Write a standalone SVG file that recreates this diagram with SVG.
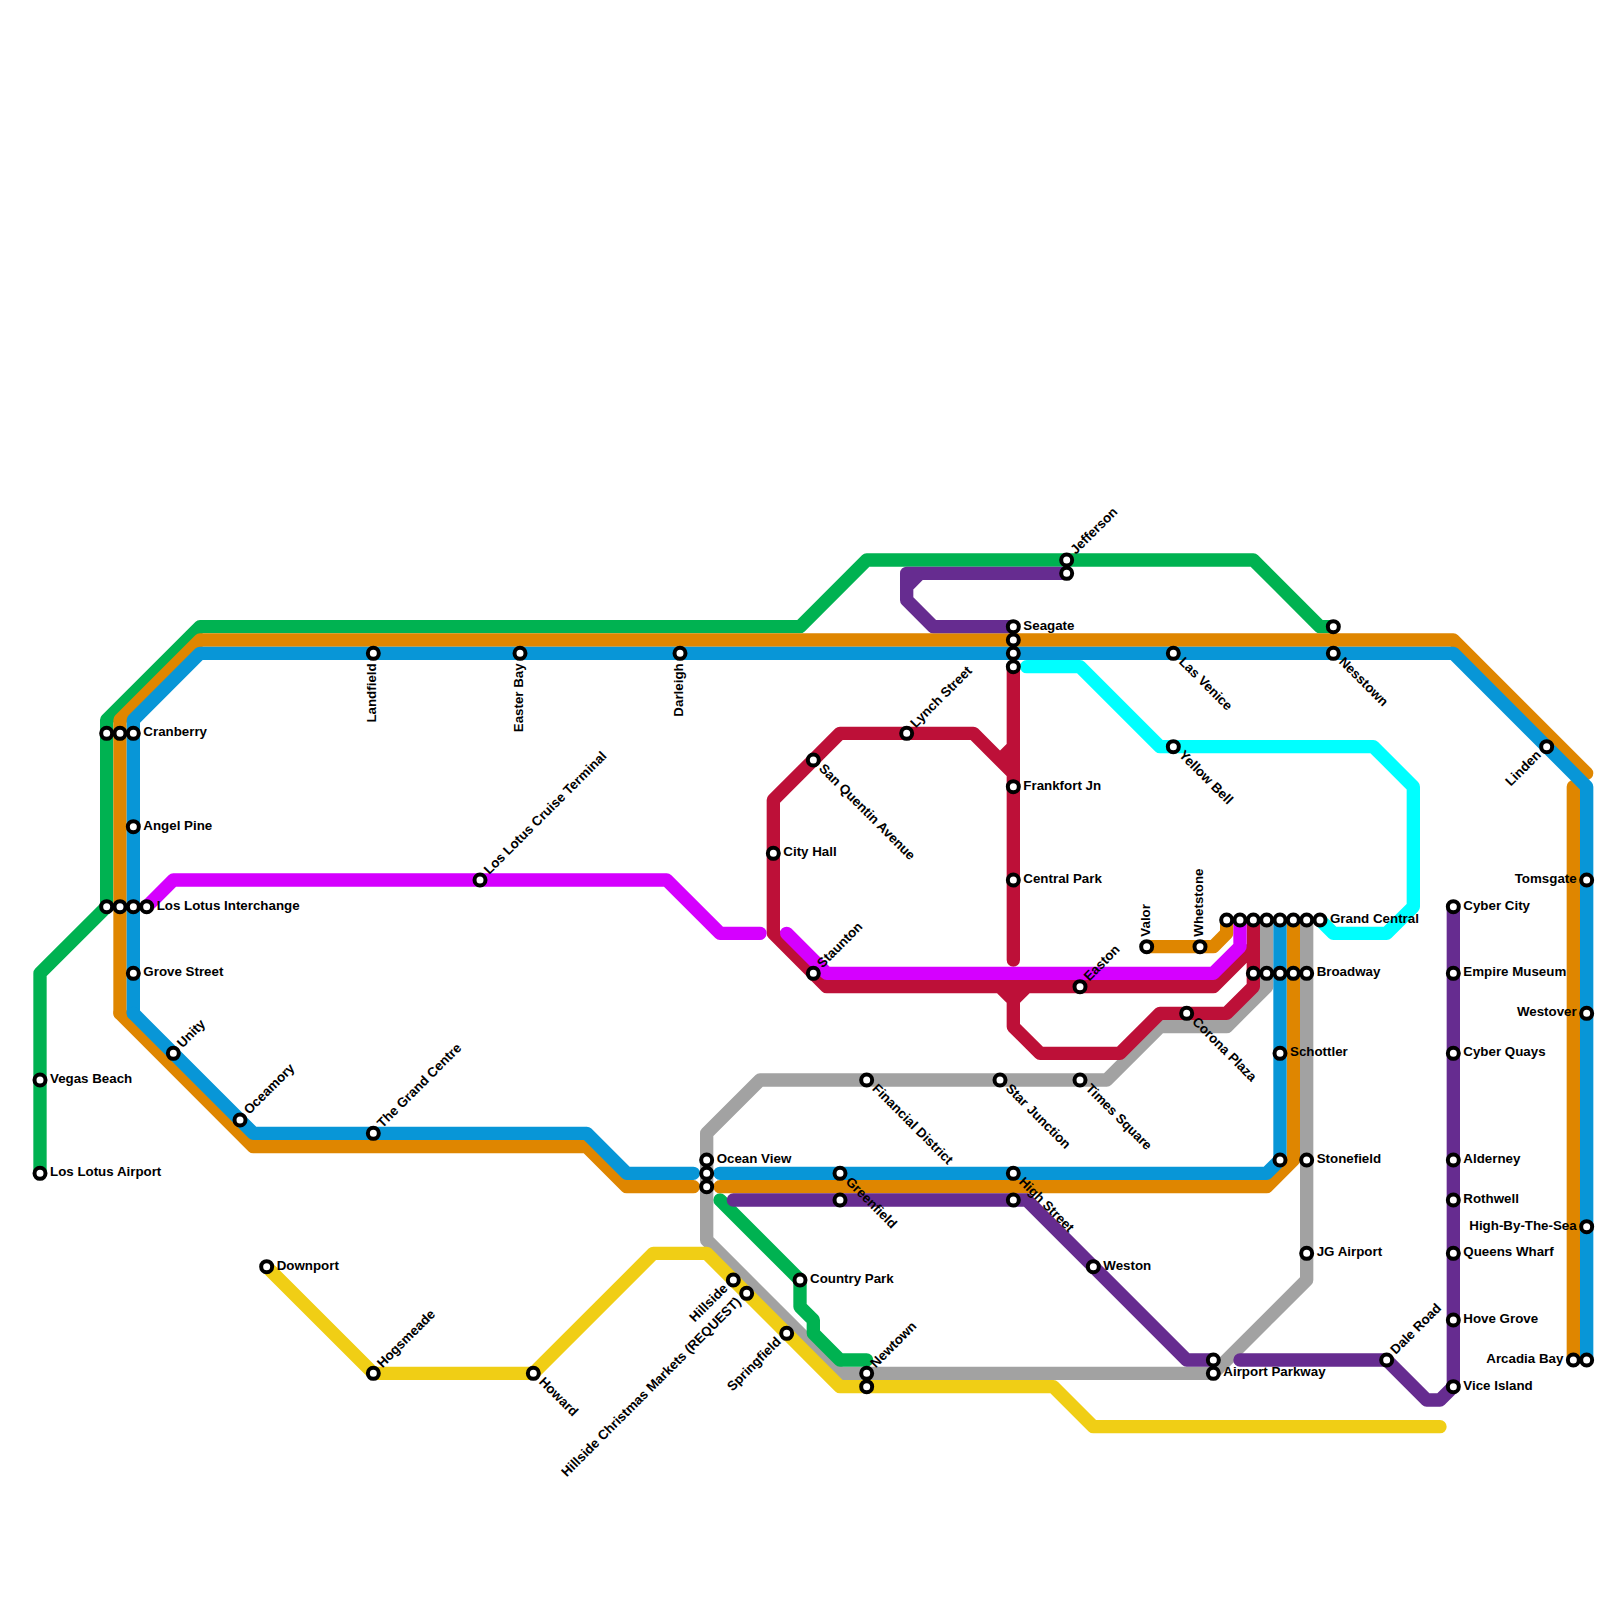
<svg xmlns="http://www.w3.org/2000/svg" width="1600" height="1600" viewBox="0 0 1600 1600">
<style>
.l{fill:none;stroke-width:1;stroke-linecap:round;stroke-linejoin:round}
.green{stroke:#00b251}.orange{stroke:#df8600}.blue{stroke:#0896d7}.magenta{stroke:#d500ff}.crimson{stroke:#bd1038}.purple{stroke:#662c90}.gray{stroke:#a2a2a2}.yellow{stroke:#f0ce15}.cyan{stroke:#00ffff}
circle{fill:#fff;stroke:#000;stroke-width:4}
text{font-family:"Liberation Sans",Arial,sans-serif;font-weight:700;font-size:13.33px;fill:#000}
.e{text-anchor:end}
</style>
<rect width="1600" height="1600" fill="#fff"/>
<g id="connectors" transform="scale(13.33333)">
<path class="l gray" d="M95 69V74L92 77H87L83 81H57L53 85V93L63 103H91L98 96V69"/>
<path class="l crimson" d="M58 70V60L63 55H73L76 58M76 56L75 57M76 50V72M58 70L62 74H91L94 71V69M94 69V74L92 76H87L84 79H78L76 77V75L75 74M76 75L77 74"/>
<path class="l green" d="M3 88V73L8 68V54L15 47H60L65 42H94L99 47H100"/>
<path class="l green" d="M54 90L60 96V98L61 99V100L63 102H65"/>
<path class="l orange" d="M9 76V54L15 48H109L119 58"/>
<path class="l orange" d="M9 76L19 86H44L47 89H52"/>
<path class="l orange" d="M54 89H95L97 87V69"/>
<path class="l orange" d="M118 59V102"/>
<path class="l orange" d="M86 71H91L92 70V69"/>
<path class="l blue" d="M10 76V54L15 49H109L119 59V102"/>
<path class="l blue" d="M10 76L19 85H44L47 88H52"/>
<path class="l blue" d="M54 88H95L96 87V69"/>
<path class="l magenta" d="M11 68L13 66H50L54 70H57"/>
<path class="l magenta" d="M59 70L62 73H91L93 71V69"/>
<path class="l purple" d="M76 47H70L68 45V43H80M69 43L68 44"/>
<path class="l purple" d="M55 90H77L89 102H91"/>
<path class="l purple" d="M93 102H104L107 105H108L109 104V68"/>
<path class="l yellow" d="M20 95L28 103H40L49 94H53L63 104H79L82 107H108"/>
<path class="l cyan" d="M77 50H81L87 56H103L106 59V68L104 70H100L99 69"/>
</g>
<g id="vegas-beach" transform="translate(40,1080)"><circle r="5.5"/><text x="10" y="3">Vegas Beach</text></g>
<g id="los-lotus-airport" transform="translate(40,1173.33)"><circle r="5.5"/><text x="10" y="3">Los Lotus Airport</text></g>
<g id="cranberry" transform="translate(133.33,733.33)"><circle cx="-26.67" r="5.5"/><circle cx="-13.33" r="5.5"/><circle r="5.5"/><text x="10" y="3">Cranberry</text></g>
<g id="angel-pine" transform="translate(133.33,826.67)"><circle r="5.5"/><text x="10" y="3">Angel Pine</text></g>
<g id="los-lotus-interchange" transform="translate(146.67,906.67)"><circle cx="-40" r="5.5"/><circle cx="-26.67" r="5.5"/><circle cx="-13.33" r="5.5"/><circle r="5.5"/><text x="10" y="3">Los Lotus Interchange</text></g>
<g id="grove-street" transform="translate(133.33,973.33)"><circle r="5.5"/><text x="10" y="3">Grove Street</text></g>
<g id="unity" transform="translate(173.33,1053.33)"><circle r="5.5"/><text x="10" y="3" transform="rotate(-45)">Unity</text></g>
<g id="oceamory" transform="translate(240,1120)"><circle r="5.5"/><text x="10" y="3" transform="rotate(-45)">Oceamory</text></g>
<g id="landfield" transform="translate(373.33,653.33)"><circle r="5.5"/><text class="e" x="-10" y="3" transform="rotate(-90)">Landfield</text></g>
<g id="the-grand-centre" transform="translate(373.33,1133.33)"><circle r="5.5"/><text x="10" y="3" transform="rotate(-45)">The Grand Centre</text></g>
<g id="easter-bay" transform="translate(520,653.33)"><circle r="5.5"/><text class="e" x="-10" y="3" transform="rotate(-90)">Easter Bay</text></g>
<g id="los-lotus-cruise-terminal" transform="translate(480,880)"><circle r="5.5"/><text x="10" y="3" transform="rotate(-45)">Los Lotus Cruise Terminal</text></g>
<g id="darleigh" transform="translate(680,653.33)"><circle r="5.5"/><text class="e" x="-10" y="3" transform="rotate(-90)">Darleigh</text></g>
<g id="ocean-view" transform="translate(706.67,1160)"><circle r="5.5"/><circle cy="13.33" r="5.5"/><circle cy="26.67" r="5.5"/><text x="10" y="3">Ocean View</text></g>
<g id="greenfield" transform="translate(840,1173.33)"><circle r="5.5"/><circle cy="26.67" r="5.5"/><text x="10" y="3" transform="rotate(45)">Greenfield</text></g>
<g id="country-park" transform="translate(800,1280)"><circle r="5.5"/><text x="10" y="3">Country Park</text></g>
<g id="hillside" transform="translate(733.33,1280)"><circle r="5.5"/><text class="e" x="-10" y="3" transform="rotate(-45)">Hillside</text></g>
<g id="hillside-christmas-markets" transform="translate(746.67,1293.33)"><circle r="5.5"/><text class="e" x="-10" y="3" transform="rotate(-45)">Hillside Christmas Markets (REQUEST)</text></g>
<g id="springfield" transform="translate(786.67,1333.33)"><circle r="5.5"/><text class="e" x="-10" y="3" transform="rotate(-45)">Springfield</text></g>
<g id="newtown" transform="translate(866.67,1373.33)"><circle r="5.5"/><circle cy="13.33" r="5.5"/><text x="10" y="3" transform="rotate(-45)">Newtown</text></g>
<g id="downport" transform="translate(266.67,1266.67)"><circle r="5.5"/><text x="10" y="3">Downport</text></g>
<g id="hogsmeade" transform="translate(373.33,1373.33)"><circle r="5.5"/><text x="10" y="3" transform="rotate(-45)">Hogsmeade</text></g>
<g id="howard" transform="translate(533.33,1373.33)"><circle r="5.5"/><text x="10" y="3" transform="rotate(45)">Howard</text></g>
<g id="financial-district" transform="translate(866.67,1080)"><circle r="5.5"/><text x="10" y="3" transform="rotate(45)">Financial District</text></g>
<g id="star-junction" transform="translate(1000,1080)"><circle r="5.5"/><text x="10" y="3" transform="rotate(45)">Star Junction</text></g>
<g id="times-square" transform="translate(1080,1080)"><circle r="5.5"/><text x="10" y="3" transform="rotate(45)">Times Square</text></g>
<g id="high-street" transform="translate(1013.33,1173.33)"><circle r="5.5"/><circle cy="26.67" r="5.5"/><text x="10" y="3" transform="rotate(45)">High Street</text></g>
<g id="weston" transform="translate(1093.33,1266.67)"><circle r="5.5"/><text x="10" y="3">Weston</text></g>
<g id="airport-parkway" transform="translate(1213.33,1373.33)"><circle cy="-13.33" r="5.5"/><circle r="5.5"/><text x="10" y="3">Airport Parkway</text></g>
<g id="dale-road" transform="translate(1386.67,1360)"><circle r="5.5"/><text x="10" y="3" transform="rotate(-45)">Dale Road</text></g>
<g id="vice-island" transform="translate(1453.33,1386.67)"><circle r="5.5"/><text x="10" y="3">Vice Island</text></g>
<g id="hove-grove" transform="translate(1453.33,1320)"><circle r="5.5"/><text x="10" y="3">Hove Grove</text></g>
<g id="queens-wharf" transform="translate(1453.33,1253.33)"><circle r="5.5"/><text x="10" y="3">Queens Wharf</text></g>
<g id="rothwell" transform="translate(1453.33,1200)"><circle r="5.5"/><text x="10" y="3">Rothwell</text></g>
<g id="alderney" transform="translate(1453.33,1160)"><circle r="5.5"/><text x="10" y="3">Alderney</text></g>
<g id="cyber-quays" transform="translate(1453.33,1053.33)"><circle r="5.5"/><text x="10" y="3">Cyber Quays</text></g>
<g id="empire-museum" transform="translate(1453.33,973.33)"><circle r="5.5"/><text x="10" y="3">Empire Museum</text></g>
<g id="cyber-city" transform="translate(1453.33,906.67)"><circle r="5.5"/><text x="10" y="3">Cyber City</text></g>
<g id="arcadia-bay" transform="translate(1573.33,1360)"><circle r="5.5"/><circle cx="13.33" r="5.5"/><text class="e" x="-10" y="3">Arcadia Bay</text></g>
<g id="high-by-the-sea" transform="translate(1586.67,1226.67)"><circle r="5.5"/><text class="e" x="-10" y="3">High-By-The-Sea</text></g>
<g id="westover" transform="translate(1586.67,1013.33)"><circle r="5.5"/><text class="e" x="-10" y="3">Westover</text></g>
<g id="tomsgate" transform="translate(1586.67,880)"><circle r="5.5"/><text class="e" x="-10" y="3">Tomsgate</text></g>
<g id="linden" transform="translate(1546.67,746.67)"><circle r="5.5"/><text class="e" x="-10" y="3" transform="rotate(-45)">Linden</text></g>
<g id="nesstown" transform="translate(1333.33,653.33)"><circle cy="-26.67" r="5.5"/><circle r="5.5"/><text x="10" y="3" transform="rotate(45)">Nesstown</text></g>
<g id="las-venice" transform="translate(1173.33,653.33)"><circle r="5.5"/><text x="10" y="3" transform="rotate(45)">Las Venice</text></g>
<g id="yellow-bell" transform="translate(1173.33,746.67)"><circle r="5.5"/><text x="10" y="3" transform="rotate(45)">Yellow Bell</text></g>
<g id="seagate" transform="translate(1013.33,626.67)"><circle r="5.5"/><circle cy="13.33" r="5.5"/><circle cy="26.67" r="5.5"/><circle cy="40" r="5.5"/><text x="10" y="3">Seagate</text></g>
<g id="jefferson" transform="translate(1066.67,560)"><circle r="5.5"/><circle cy="13.33" r="5.5"/><text x="10" y="3" transform="rotate(-45)">Jefferson</text></g>
<g id="lynch-street" transform="translate(906.67,733.33)"><circle r="5.5"/><text x="10" y="3" transform="rotate(-45)">Lynch Street</text></g>
<g id="san-quentin-avenue" transform="translate(813.33,760)"><circle r="5.5"/><text x="10" y="3" transform="rotate(45)">San Quentin Avenue</text></g>
<g id="city-hall" transform="translate(773.33,853.33)"><circle r="5.5"/><text x="10" y="3">City Hall</text></g>
<g id="staunton" transform="translate(813.33,973.33)"><circle r="5.5"/><text x="10" y="3" transform="rotate(-45)">Staunton</text></g>
<g id="frankfort-jn" transform="translate(1013.33,786.67)"><circle r="5.5"/><text x="10" y="3">Frankfort Jn</text></g>
<g id="central-park" transform="translate(1013.33,880)"><circle r="5.5"/><text x="10" y="3">Central Park</text></g>
<g id="easton" transform="translate(1080,986.67)"><circle r="5.5"/><text x="10" y="3" transform="rotate(-45)">Easton</text></g>
<g id="corona-plaza" transform="translate(1186.67,1013.33)"><circle r="5.5"/><text x="10" y="3" transform="rotate(45)">Corona Plaza</text></g>
<g id="valor" transform="translate(1146.67,946.67)"><circle r="5.5"/><text x="10" y="3" transform="rotate(-90)">Valor</text></g>
<g id="whetstone" transform="translate(1200,946.67)"><circle r="5.5"/><text x="10" y="3" transform="rotate(-90)">Whetstone</text></g>
<g id="grand-central" transform="translate(1320,920)"><circle cx="-93.33" r="5.5"/><circle cx="-80" r="5.5"/><circle cx="-66.67" r="5.5"/><circle cx="-53.33" r="5.5"/><circle cx="-40" r="5.5"/><circle cx="-26.67" r="5.5"/><circle cx="-13.33" r="5.5"/><circle r="5.5"/><text x="10" y="3">Grand Central</text></g>
<g id="broadway" transform="translate(1306.67,973.33)"><circle cx="-53.33" r="5.5"/><circle cx="-40" r="5.5"/><circle cx="-26.67" r="5.5"/><circle cx="-13.33" r="5.5"/><circle r="5.5"/><text x="10" y="3">Broadway</text></g>
<g id="schottler" transform="translate(1280,1053.33)"><circle r="5.5"/><text x="10" y="3">Schottler</text></g>
<g id="stonefield" transform="translate(1306.67,1160)"><circle cx="-26.67" r="5.5"/><circle r="5.5"/><text x="10" y="3">Stonefield</text></g>
<g id="jg-airport" transform="translate(1306.67,1253.33)"><circle r="5.5"/><text x="10" y="3">JG Airport</text></g>
</svg>
